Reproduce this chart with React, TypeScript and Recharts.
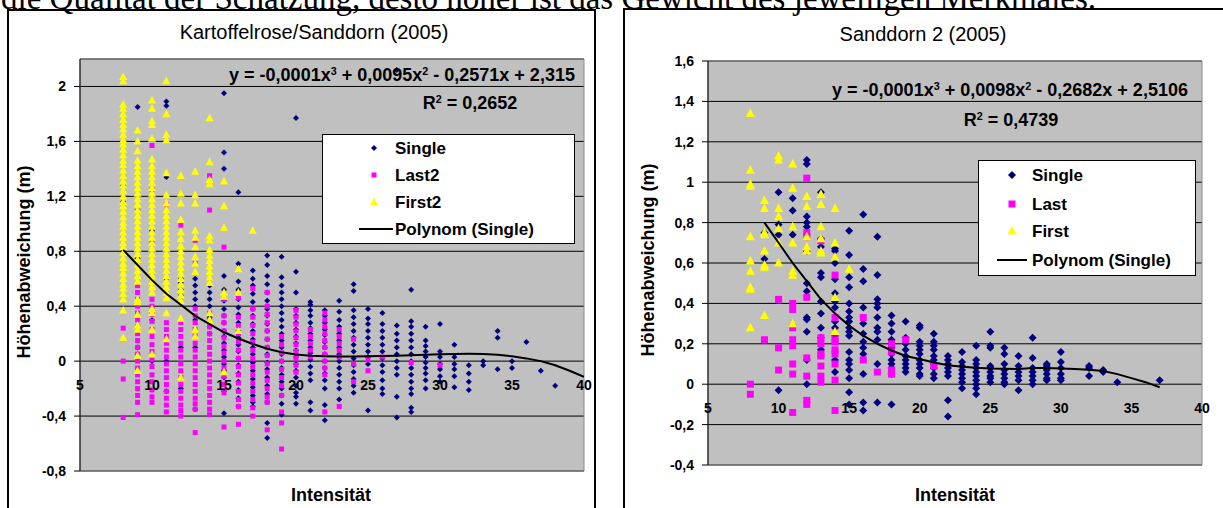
import React from 'react';
import { ScatterChart, Scatter, XAxis, YAxis, CartesianGrid, Legend, ReferenceArea } from 'recharts';

type Col = [number, number[]];

const FONT = '"Liberation Sans", Arial, Helvetica, sans-serif';

const xTicks = [5, 10, 15, 20, 25, 30, 35, 40];
const leftYTicks = [-0.8, -0.4, 0, 0.4, 0.8, 1.2, 1.6, 2];
const rightYTicks = [-0.4, -0.2, 0, 0.2, 0.4, 0.6, 0.8, 1, 1.2, 1.4, 1.6];

// Kartoffelrose/Sanddorn (2005): intensity -> height deviations (m)
const leftSingle: Col[] = [
  [8, [1.28, 1.16, 0.8]],
  [9, [1.85, 1.1, 0.75, 0.1, 0.05]],
  [10, [0.95, 0.93, 0.3, 0.0]],
  [11, [1.89, 1.86, 1.34, 0.6, 0.0, -0.22]],
  [12, [0.6, 0.57, 0.52, 0.48, 0.1, -0.2]],
  [13, [0.6, 0.55, 0.5, 0.45, 0.4, 0.3, 0.1, -0.35]],
  [14, [0.6, 0.55, 0.5, 0.45, 0.4, 0.32, 0.25, 0.2]],
  [15, [1.95, 1.52, 1.4, 0.62, 0.52, 0.44, 0.38, 0.33, 0.28, 0.22, 0.18, 0.13, 0.08, 0.03, -0.02, -0.07, -0.12, -0.17, -0.22, -0.38]],
  [16, [1.23, 0.71, 0.58, 0.52, 0.45, 0.39, 0.34, 0.28, 0.22, 0.17, 0.12, 0.07, 0.02, -0.03, -0.09, -0.15, -0.21, -0.27, -0.33]],
  [17, [0.66, 0.6, 0.55, 0.49, 0.43, 0.38, 0.33, 0.27, 0.22, 0.16, 0.1, 0.05, -0.01, -0.07, -0.13, -0.19, -0.25, -0.3, -0.33]],
  [18, [0.77, 0.7, 0.62, 0.56, 0.5, 0.44, 0.38, 0.33, 0.27, 0.22, 0.16, 0.1, 0.05, -0.01, -0.06, -0.12, -0.18, -0.24, -0.3, -0.45, -0.56]],
  [19, [0.76, 0.61, 0.55, 0.5, 0.45, 0.4, 0.35, 0.3, 0.25, 0.2, 0.15, 0.1, 0.05, 0.0, -0.05, -0.1, -0.15, -0.2, -0.25, -0.31, -0.39]],
  [20, [1.77, 0.65, 0.5, 0.38, 0.33, 0.28, 0.23, 0.18, 0.13, 0.08, 0.03, -0.02, -0.07, -0.12, -0.18, -0.23, -0.26, -0.31]],
  [21, [0.43, 0.41, 0.37, 0.33, 0.28, 0.24, 0.2, 0.15, 0.1, 0.06, 0.01, -0.04, -0.09, -0.14, -0.3, -0.36]],
  [22, [0.37, 0.33, 0.28, 0.23, 0.19, 0.14, 0.1, 0.05, 0.0, -0.05, -0.09, -0.14, -0.2, -0.32, -0.43]],
  [23, [0.44, 0.36, 0.3, 0.25, 0.2, 0.15, 0.1, 0.05, 0.0, -0.05, -0.1, -0.15, -0.2, -0.28]],
  [24, [0.56, 0.51, 0.37, 0.32, 0.27, 0.22, 0.17, 0.12, 0.07, 0.02, -0.03, -0.08, -0.13, -0.18, -0.23]],
  [25, [0.38, 0.31, 0.27, 0.22, 0.17, 0.12, 0.07, 0.03, -0.02, -0.36]],
  [26, [0.35, 0.27, 0.22, 0.17, 0.12, 0.07, 0.02, -0.03, -0.08, -0.14, -0.2, -0.24]],
  [27, [2.12, 0.26, 0.2, 0.15, 0.1, 0.05, 0.0, -0.05, -0.1, -0.26, -0.41]],
  [28, [0.52, 0.29, 0.25, 0.2, 0.15, 0.1, 0.05, 0.0, -0.05, -0.1, -0.15, -0.2, -0.24, -0.34, -0.37]],
  [29, [0.25, 0.15, 0.11, 0.07, 0.03, -0.01, -0.05, -0.09, -0.14, -0.2]],
  [30, [0.27, 0.07, 0.03, -0.02, -0.06, -0.11, -0.15]],
  [31, [0.12, 0.03, -0.02, -0.06, -0.11, -0.19]],
  [32, [-0.03, -0.09, -0.15, -0.21]],
  [33, [0.0, -0.03]],
  [34, [0.22, 0.17, -0.06]],
  [35, [0.0, -0.05]],
  [36, [0.14]],
  [37, [-0.07]],
  [38, [-0.18]],
];

const leftLast2: Col[] = [
  [8, [0.24, 0.0, -0.13, -0.41]],
  [9, [0.55, 0.5, 0.45, 0.4, 0.35, 0.3, 0.25, 0.2, 0.15, 0.1, 0.05, 0.0, -0.05, -0.1, -0.15, -0.2, -0.25, -0.3, -0.39]],
  [10, [1.57, 1.25, 0.88, 0.45, 0.4, 0.34, 0.29, 0.23, 0.18, 0.12, 0.07, 0.01, -0.04, -0.1, -0.15, -0.21, -0.26, -0.3]],
  [11, [1.14, 0.28, 0.23, 0.18, 0.13, 0.08, 0.03, -0.02, -0.07, -0.12, -0.17, -0.22, -0.27, -0.32, -0.37]],
  [12, [0.99, 0.28, 0.23, 0.18, 0.13, 0.08, 0.03, -0.02, -0.07, -0.12, -0.17, -0.22, -0.27, -0.32, -0.36, -0.4]],
  [13, [0.88, 0.71, 0.38, 0.33, 0.28, 0.23, 0.18, 0.13, 0.08, 0.03, -0.02, -0.07, -0.12, -0.17, -0.22, -0.27, -0.31, -0.35, -0.52]],
  [14, [1.35, 1.1, 0.35, 0.3, 0.25, 0.2, 0.15, 0.1, 0.05, 0.0, -0.05, -0.1, -0.15, -0.2, -0.25, -0.3, -0.35, -0.39]],
  [15, [0.83, 0.45, 0.33, 0.28, 0.22, 0.17, 0.11, 0.06, 0.0, -0.05, -0.11, -0.17, -0.23, -0.48]],
  [16, [0.46, 0.32, 0.26, 0.2, 0.14, 0.08, 0.02, -0.04, -0.1, -0.16, -0.22, -0.28, -0.33, -0.46]],
  [17, [0.53, 0.38, 0.32, 0.26, 0.2, 0.14, 0.08, 0.02, -0.04, -0.1, -0.16, -0.22, -0.28, -0.34, -0.4]],
  [18, [0.5, 0.4, 0.34, 0.28, 0.22, 0.16, 0.1, 0.04, -0.02, -0.08, -0.14, -0.2, -0.26, -0.3, -0.5]],
  [19, [0.18, 0.12, 0.06, 0.0, -0.06, -0.12, -0.18, -0.25, -0.37, -0.45, -0.64]],
  [20, [0.37, 0.32, 0.27, 0.22, 0.17, 0.12, 0.07, 0.02, -0.03, -0.08]],
  [21, [0.23, 0.18, 0.13, 0.08, 0.03]],
  [22, [0.35, 0.3, 0.25, 0.2, 0.15, 0.1, 0.05, 0.0, -0.05, -0.1, -0.37]],
  [23, [0.23, 0.18, 0.13, 0.08, 0.03, -0.33]],
  [24, [0.16, -0.02, -0.15]],
  [25, [0.01, -0.07]],
  [26, [0.03]],
  [28, [-0.01]],
  [30, [-0.03]],
];

const leftFirst2: Col[] = [
  [8, [2.07, 2.04, 1.87, 1.84, 1.8, 1.76, 1.72, 1.69, 1.65, 1.61, 1.58, 1.54, 1.5, 1.46, 1.43, 1.39, 1.35, 1.31, 1.28, 1.24, 1.2, 1.16, 1.13, 1.09, 1.05, 1.01, 0.98, 0.94, 0.9, 0.86, 0.83, 0.79, 0.75, 0.71, 0.68, 0.64, 0.6, 0.56, 0.53, 0.49, 0.45, 0.37, 0.17]],
  [9, [1.68, 1.6, 1.53, 1.46, 1.42, 1.38, 1.34, 1.3, 1.26, 1.22, 1.18, 1.14, 1.1, 1.06, 1.02, 0.98, 0.94, 0.9, 0.86, 0.82, 0.78, 0.74, 0.7, 0.66, 0.62, 0.58, 0.45, 0.43, 0.34, 0.26, 0.23, 0.04, -0.07]],
  [10, [1.9, 1.84, 1.75, 1.72, 1.62, 1.47, 1.42, 1.38, 1.34, 1.3, 1.26, 1.22, 1.18, 1.14, 1.1, 1.06, 1.02, 0.98, 0.94, 0.9, 0.86, 0.82, 0.78, 0.74, 0.7, 0.66, 0.62, 0.58, 0.54, 0.5, 0.38, 0.35, 0.23, 0.05]],
  [11, [2.04, 1.8, 1.65, 1.61, 1.37, 1.21, 1.15, 1.1, 1.06, 1.02, 0.98, 0.94, 0.9, 0.86, 0.82, 0.78, 0.74, 0.7, 0.66, 0.62, 0.58, 0.54, 0.5, 0.46, 0.35, 0.16]],
  [12, [1.35, 1.22, 1.15, 1.03, 0.94, 0.89, 0.84, 0.8, 0.76, 0.72, 0.68, 0.64, 0.6, 0.56, 0.52, 0.48, 0.44, 0.31, -0.12]],
  [13, [1.38, 1.21, 1.15, 0.95, 0.9, 0.83, 0.76, 0.71, 0.65, 0.23, 0.18]],
  [14, [1.77, 1.45, 1.32, 1.29, 0.91, 0.88, 0.81, 0.77, 0.73, 0.69, 0.65, 0.61, 0.57, 0.35, 0.3]],
  [15, [1.31, 1.13, 0.97, 0.5, 0.47, -0.08]],
  [16, [0.67, 0.5, 0.22]],
  [17, [0.95]],
];

const leftTrend: [number, number][] = [
  [8, 0.81], [9, 0.7], [10, 0.59], [11, 0.49], [12, 0.41], [13, 0.33], [14, 0.27], [15, 0.21],
  [16, 0.165], [17, 0.125], [18, 0.09], [19, 0.065], [20, 0.048], [21, 0.04], [22, 0.036], [23, 0.034],
  [24, 0.034], [25, 0.035], [26, 0.037], [27, 0.04], [28, 0.043], [29, 0.046], [30, 0.05], [31, 0.052],
  [32, 0.053], [33, 0.052], [34, 0.046], [35, 0.035], [36, 0.02], [37, 0.0], [38, -0.03], [39, -0.07], [40, -0.115],
];

// Sanddorn 2 (2005)
const rightSingle: Col[] = [
  [9, [0.75, 0.62]],
  [10, [0.95, 0.79, 0.74, -0.03]],
  [11, [0.92, 0.86, 0.74]],
  [12, [1.11, 1.09, 0.83, 0.8, 0.78, 0.66, 0.5, 0.46, 0.33, 0.32, 0.26, 0.12, 0.0]],
  [13, [0.95, 0.72, 0.68, 0.55, 0.53, 0.41, 0.35, 0.28, 0.23, 0.17]],
  [14, [0.67, 0.66, 0.6, 0.52, 0.45, 0.41, 0.38, 0.31, 0.28, 0.24, 0.12, 0.06]],
  [15, [0.76, 0.64, 0.53, 0.48, 0.4, 0.36, 0.33, 0.31, 0.28, 0.26, 0.24, 0.16, 0.12, 0.1, 0.07, 0.03, -0.04, -0.1]],
  [16, [0.84, 0.57, 0.51, 0.38, 0.3, 0.25, 0.21, 0.18, 0.15, 0.05, -0.09, -0.13]],
  [17, [0.73, 0.54, 0.42, 0.4, 0.38, 0.33, 0.28, 0.26, 0.22, 0.1, -0.09]],
  [18, [0.34, 0.3, 0.26, 0.22, 0.18, 0.15, 0.12, 0.1, 0.08, 0.05, -0.1]],
  [19, [0.31, 0.23, 0.2, 0.17, 0.14, 0.12, 0.1, 0.08, 0.06]],
  [20, [0.29, 0.28, 0.21, 0.19, 0.17, 0.15, 0.12, 0.1, 0.08, 0.05, 0.04]],
  [21, [0.25, 0.21, 0.19, 0.17, 0.14, 0.12, 0.1, 0.08, 0.05, 0.03]],
  [22, [0.14, 0.12, 0.1, 0.08, 0.06, 0.04, -0.08, -0.16]],
  [23, [0.16, 0.11, 0.09, 0.07, 0.05, 0.03, 0.01, -0.02]],
  [24, [0.19, 0.12, 0.1, 0.08, 0.06, 0.04, 0.02, 0.0, -0.02, -0.05]],
  [25, [0.26, 0.19, 0.18, 0.09, 0.08, 0.06, 0.04, 0.03, 0.01]],
  [26, [0.18, 0.15, 0.1, 0.07, 0.05, 0.03, 0.01, 0.0]],
  [27, [0.14, 0.09, 0.06, 0.04, 0.02, -0.03]],
  [28, [0.23, 0.13, 0.08, 0.06, 0.04, 0.02, 0.0]],
  [29, [0.1, 0.09, 0.07, 0.05, 0.03, 0.02]],
  [30, [0.16, 0.11, 0.08, 0.05, 0.03, 0.02]],
  [32, [0.09, 0.08, 0.04]],
  [33, [0.07, 0.06]],
  [34, [0.01]],
  [37, [0.02]],
];

const rightLast: Col[] = [
  [8, [0.0, -0.05]],
  [9, [0.22]],
  [10, [0.42, 0.18, 0.07]],
  [11, [0.4, 0.37, 0.28, 0.22, 0.19, 0.1, 0.05, -0.14]],
  [12, [1.02, 0.75, 0.73, 0.43, 0.13, 0.04, -0.08, -0.1]],
  [13, [0.71, 0.23, 0.2, 0.15, 0.14, 0.09, 0.04, 0.01]],
  [14, [0.54, 0.33, 0.22, 0.21, 0.17, 0.15, 0.1, 0.02, -0.13]],
  [16, [0.33, 0.12]],
  [17, [0.06]],
  [18, [0.2, 0.16, 0.07, 0.05]],
  [19, [0.22]],
  [21, [0.09]],
];

const rightFirst: Col[] = [
  [8, [1.34, 1.06, 0.99, 0.98, 0.73, 0.61, 0.56, 0.48, 0.47, 0.28]],
  [9, [0.91, 0.87, 0.75, 0.74, 0.66, 0.59, 0.58, 0.34]],
  [10, [1.13, 1.11, 0.87, 0.83, 0.77, 0.7, 0.6]],
  [11, [1.09, 0.97, 0.78, 0.7, 0.56, 0.54, 0.3]],
  [12, [0.93, 0.88, 0.73, 0.68, 0.66]],
  [13, [0.94, 0.89, 0.78, 0.72, 0.66, 0.65]],
  [14, [0.87, 0.7, 0.63, 0.43, 0.26]],
  [15, [0.57]],
];

const rightTrend: [number, number][] = [
  [9, 0.8], [10, 0.7], [11, 0.6], [12, 0.51], [13, 0.42], [14, 0.35], [15, 0.29], [16, 0.24],
  [17, 0.2], [18, 0.167], [19, 0.14], [20, 0.125], [21, 0.107], [22, 0.094], [23, 0.086], [24, 0.082],
  [25, 0.078], [26, 0.076], [27, 0.075], [28, 0.08], [29, 0.08], [30, 0.078], [31, 0.075], [32, 0.072],
  [33, 0.065], [34, 0.05], [35, 0.03], [36, 0.01], [37, -0.015],
];

const flat = (cols: Col[]) => cols.flatMap(([x, ys]) => ys.map((y) => ({ x, y })));
const pts = (rows: [number, number][]) => rows.map(([x, y]) => ({ x, y }));
const fmt = (v: number) => String(v).replace('.', ',');

type Mk = { d: number; s: number; t: number };

const Diamond = ({ cx, cy, r }: any) => (
  <path d={`M${cx},${cy - r}L${cx + r},${cy}L${cx},${cy + r}L${cx - r},${cy}Z`} fill="#000080" />
);
const Square = ({ cx, cy, s }: any) => <rect x={cx - s / 2} y={cy - s / 2} width={s} height={s} fill="#ff00ff" />;
const Tri = ({ cx, cy, t }: any) => (
  <path d={`M${cx},${cy - t * 0.55}L${cx + t / 2},${cy + t * 0.4}L${cx - t / 2},${cy + t * 0.4}Z`} fill="#ffff00" />
);

type LegendCfg = {
  left: number; top: number; w: number; h: number;
  rows: number[]; markX: number; textX: number; line: [number, number];
  names: string[];
};

function LegendBox({ cfg, mk }: { cfg: LegendCfg; mk: Mk }) {
  const fs = 17;
  return (
    <svg width={cfg.w} height={cfg.h} style={{ display: 'block' }}>
      <rect x={0.5} y={0.5} width={cfg.w - 1} height={cfg.h - 1} fill="#fff" stroke="#000" />
      <Diamond cx={cfg.markX} cy={cfg.rows[0]} r={mk.d} />
      <Square cx={cfg.markX} cy={cfg.rows[1]} s={mk.s} />
      <Tri cx={cfg.markX} cy={cfg.rows[2]} t={mk.t} />
      <line x1={cfg.line[0]} x2={cfg.line[1]} y1={cfg.rows[3]} y2={cfg.rows[3]} stroke="#000" strokeWidth={2} />
      {cfg.names.map((n, i) => (
        <text key={n} x={cfg.textX} y={cfg.rows[i] + 6} fontSize={fs} fontWeight="bold" fontFamily={FONT} fill="#000">
          {n}
        </text>
      ))}
    </svg>
  );
}

type PanelProps = {
  w: number; h: number;
  margin: { top: number; right: number; bottom: number; left: number };
  yAxisW: number;
  yDomain: [number, number];
  yTicks: number[];
  single: Col[]; last: Col[]; first: Col[]; trend: [number, number][];
  mk: Mk;
  legend: LegendCfg;
};

const X_AXIS_H = 20;

function Panel(p: PanelProps) {
  const plotH = p.h - p.margin.top - p.margin.bottom - X_AXIS_H;
  const zeroY = p.margin.top + (p.yDomain[1] / (p.yDomain[1] - p.yDomain[0])) * plotH;
  const xTick = (t: any) => (
    <text x={t.x} y={zeroY + 29} textAnchor="middle" fontSize={14} fontWeight="bold" fontFamily={FONT} fill="#000">
      {t.payload.value}
    </text>
  );
  return (
    <ScatterChart width={p.w} height={p.h} margin={p.margin}>
      <CartesianGrid vertical={false} fill="#c0c0c0" fillOpacity={1} stroke="#000" />
      <ReferenceArea x1={5} x2={40} y1={p.yDomain[0]} y2={p.yDomain[1]} fill="none" stroke="#8a8a8a" />
      <XAxis
        type="number" dataKey="x" domain={[5, 40]} ticks={xTicks} interval={0}
        axisLine={false} tickLine={false} height={X_AXIS_H} tick={xTick} allowDataOverflow
      />
      <YAxis
        type="number" dataKey="y" domain={p.yDomain} ticks={p.yTicks} interval={0} width={p.yAxisW}
        tickSize={6} tickMargin={8} axisLine={{ stroke: '#000' }} tickLine={{ stroke: '#000' }}
        tick={{ fill: '#000', fontSize: 14, fontWeight: 'bold', fontFamily: FONT }}
        tickFormatter={fmt} allowDataOverflow
      />
      <Scatter name="Single" data={flat(p.single)} isAnimationActive={false}
        shape={(s: any) => <Diamond cx={s.cx} cy={s.cy} r={p.mk.d} />} />
      <Scatter name="Last" data={flat(p.last)} isAnimationActive={false}
        shape={(s: any) => <Square cx={s.cx} cy={s.cy} s={p.mk.s} />} />
      <Scatter name="First" data={flat(p.first)} isAnimationActive={false}
        shape={(s: any) => <Tri cx={s.cx} cy={s.cy} t={p.mk.t} />} />
      <Scatter name="Polynom (Single)" data={pts(p.trend)} isAnimationActive={false}
        line={{ stroke: '#000', strokeWidth: 2 }} shape={() => <g />} />
      <Legend
        layout="vertical" align="center" verticalAlign="middle"
        wrapperStyle={{ left: p.legend.left, top: p.legend.top, width: p.legend.w, height: p.legend.h }}
        content={() => <LegendBox cfg={p.legend} mk={p.mk} />}
      />
    </ScatterChart>
  );
}

const T = ({ x, y, size, bold, rotate, children }: any) => (
  <div
    style={{
      position: 'absolute', left: x, top: y, whiteSpace: 'nowrap', fontFamily: FONT,
      fontSize: size, fontWeight: bold ? 'bold' : 'normal', color: '#000', lineHeight: 1,
      transform: `translate(-50%, -50%)${rotate ? ' rotate(-90deg)' : ''}`,
    }}
  >
    {children}
  </div>
);

const sup = (s: string) => <span style={{ fontSize: '0.6em', verticalAlign: '0.6em' }}>{s}</span>;

export default function App() {
  return (
    <div style={{ position: 'absolute', left: 0, top: 0, width: 1223, height: 508, overflow: 'hidden', background: '#fff' }}>
      <div style={{ position: 'absolute', left: 7, top: 9, width: 589, height: 530, border: '2px solid #000', boxSizing: 'border-box', background: '#fff' }} />
      <div style={{ position: 'absolute', left: 623, top: 8, width: 640, height: 530, border: '2px solid #000', boxSizing: 'border-box', background: '#fff' }} />

      <div style={{ position: 'absolute', left: 0, top: 0 }}>
        <Panel
          w={600} h={508} margin={{ top: 59, right: 16, bottom: 17, left: 0 }} yAxisW={80}
          yDomain={[-0.8, 2.2]} yTicks={leftYTicks}
          single={leftSingle} last={leftLast2} first={leftFirst2} trend={leftTrend}
          mk={{ d: 3, s: 5, t: 8 }}
          legend={{
            left: 322, top: 134, w: 253, h: 110, rows: [14, 41, 68, 95], markX: 52, textX: 73,
            line: [37, 71], names: ['Single', 'Last2', 'First2', 'Polynom (Single)'],
          }}
        />
      </div>
      <div style={{ position: 'absolute', left: 600, top: 0 }}>
        <Panel
          w={623} h={508} margin={{ top: 61, right: 21, bottom: 23, left: 0 }} yAxisW={108}
          yDomain={[-0.4, 1.6]} yTicks={rightYTicks}
          single={rightSingle} last={rightLast} first={rightFirst} trend={rightTrend}
          mk={{ d: 4, s: 7, t: 9 }}
          legend={{
            left: 378, top: 160, w: 218, h: 116, rows: [15, 44, 71, 100], markX: 34, textX: 54,
            line: [19, 49], names: ['Single', 'Last', 'First', 'Polynom (Single)'],
          }}
        />
      </div>

      <div style={{
        position: 'absolute', left: 1, top: -18, fontFamily: '"Liberation Serif", "Times New Roman", serif',
        fontSize: 33, lineHeight: '33px', whiteSpace: 'nowrap', color: '#000',
      }}>
        die Qualität der Schätzung, desto höher ist das Gewicht des jeweiligen Merkmales.
      </div>

      <T x={314} y={32} size={20}>Kartoffelrose/Sanddorn (2005)</T>
      <T x={402} y={75} size={18} bold>y = -0,0001x{sup('3')} + 0,0095x{sup('2')} - 0,2571x + 2,315</T>
      <T x={470} y={103} size={18} bold>R{sup('2')} = 0,2652</T>
      <T x={24} y={262} size={18} bold rotate>Höhenabweichung (m)</T>
      <T x={331} y={495} size={18} bold>Intensität</T>

      <T x={923} y={34} size={20}>Sanddorn 2 (2005)</T>
      <T x={1010} y={90} size={18} bold>y = -0,0001x{sup('3')} + 0,0098x{sup('2')} - 0,2682x + 2,5106</T>
      <T x={1011} y={120} size={18} bold>R{sup('2')} = 0,4739</T>
      <T x={648} y={260} size={18} bold rotate>Höhenabweichung (m)</T>
      <T x={955} y={495} size={18} bold>Intensität</T>
    </div>
  );
}
